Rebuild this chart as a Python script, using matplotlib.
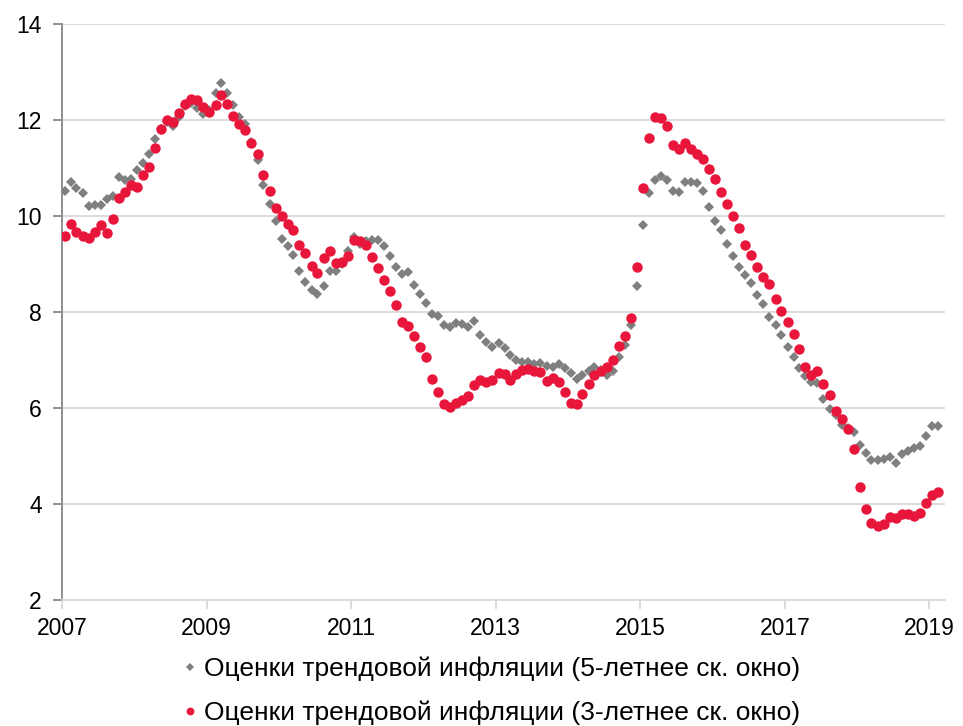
import numpy as np
import pandas as pd
import matplotlib
matplotlib.use("Agg")
import matplotlib.pyplot as plt
import matplotlib.dates as mdates
from datetime import datetime

plt.rcParams['font.family'] = ['Liberation Sans', 'DejaVu Sans']

# monthly estimates, Jan 2007 - Feb 2019
trend_5y = [
    10.53, 10.71, 10.58, 10.47, 10.21, 10.22, 10.22, 10.35, 10.42, 10.81, 10.74, 10.78,
    10.96, 11.10, 11.29, 11.60, 11.82, 11.95, 11.88, 12.07, 12.30, 12.35, 12.24, 12.12,
    12.20, 12.56, 12.78, 12.57, 12.31, 12.06, 11.92, 11.55, 11.17, 10.64, 10.25, 9.90,
    9.51, 9.38, 9.19, 8.85, 8.63, 8.46, 8.37, 8.54, 8.86, 8.86, 9.00, 9.26,
    9.56, 9.42, 9.47, 9.49, 9.49, 9.38, 9.17, 8.93, 8.79, 8.84, 8.56, 8.37,
    8.19, 7.96, 7.92, 7.73, 7.69, 7.76, 7.74, 7.69, 7.81, 7.52, 7.37, 7.28,
    7.36, 7.25, 7.11, 6.99, 6.95, 6.96, 6.92, 6.94, 6.88, 6.85, 6.91, 6.84,
    6.72, 6.60, 6.69, 6.76, 6.86, 6.80, 6.69, 6.78, 7.07, 7.32, 7.72, 8.54,
    9.81, 10.47, 10.75, 10.83, 10.75, 10.53, 10.49, 10.71, 10.71, 10.68, 10.51, 10.18,
    9.90, 9.71, 9.42, 9.17, 8.94, 8.77, 8.61, 8.35, 8.17, 7.89, 7.73, 7.53,
    7.26, 7.07, 6.84, 6.67, 6.55, 6.51, 6.18, 5.97, 5.85, 5.65, 5.58, 5.49,
    5.23, 5.06, 4.92, 4.92, 4.93, 4.97, 4.86, 5.04, 5.11, 5.16, 5.21, 5.42,
    5.63, 5.63,
]
trend_3y = [
    9.59, 9.83, 9.67, 9.59, 9.54, 9.67, 9.81, 9.65, 9.93, 10.37, 10.49, 10.65,
    10.60, 10.85, 11.01, 11.41, 11.82, 11.99, 11.96, 12.14, 12.33, 12.44, 12.42, 12.27,
    12.17, 12.32, 12.51, 12.34, 12.09, 11.91, 11.79, 11.53, 11.29, 10.85, 10.51, 10.16,
    10.00, 9.83, 9.71, 9.40, 9.22, 8.96, 8.81, 9.12, 9.28, 9.03, 9.05, 9.17,
    9.50, 9.48, 9.40, 9.15, 8.92, 8.67, 8.44, 8.15, 7.80, 7.71, 7.49, 7.28,
    7.07, 6.60, 6.33, 6.09, 6.02, 6.11, 6.17, 6.25, 6.48, 6.58, 6.54, 6.58,
    6.72, 6.70, 6.58, 6.71, 6.79, 6.81, 6.78, 6.74, 6.57, 6.62, 6.54, 6.34,
    6.10, 6.08, 6.29, 6.50, 6.69, 6.76, 6.85, 7.00, 7.29, 7.50, 7.88, 8.94,
    10.58, 11.62, 12.07, 12.04, 11.88, 11.48, 11.39, 11.53, 11.40, 11.29, 11.19, 10.98,
    10.76, 10.49, 10.24, 9.99, 9.74, 9.40, 9.19, 8.93, 8.72, 8.58, 8.27, 8.02,
    7.80, 7.54, 7.22, 6.85, 6.69, 6.76, 6.50, 6.27, 5.94, 5.77, 5.56, 5.15,
    4.35, 3.89, 3.60, 3.54, 3.58, 3.72, 3.70, 3.79, 3.79, 3.74, 3.82, 4.01,
    4.19, 4.24,
]
dates = pd.date_range('2007-01-01', '2019-02-01', freq='MS') + pd.Timedelta(days=14)

label_5y = 'Оценки трендовой инфляции (5-летнее ск. окно)'
label_3y = 'Оценки трендовой инфляции (3-летнее ск. окно)'
year_ticks = [datetime(y, 1, 1) for y in range(2007, 2020, 2)]

grey = '#7f7f7f'
red = '#e9163c'

fig = plt.figure(figsize=(9.63, 7.26), dpi=100)
ax = fig.add_axes([0.0644, 0.1736, 0.9166, 0.7934])

ax.plot(dates, trend_5y, 'D', color=grey, ms=5.5, mew=0, label=label_5y, zorder=3)
ax.plot(dates, trend_3y, 'o', color=red, ms=7.5, mew=0, label=label_3y, zorder=4)

ax.set_ylim(2, 14)
ax.set_yticks(range(2, 15, 2))
ax.set_xlim(datetime(2007, 1, 1), datetime(2019, 3, 20))
ax.set_xticks(year_ticks)
ax.xaxis.set_major_formatter(mdates.DateFormatter('%Y'))

ax.grid(axis='y', color='#d9d9d9', lw=1.3)
ax.set_axisbelow(True)
for s in ['top', 'right']:
    ax.spines[s].set_visible(False)
ax.spines['left'].set_color('#888888')
ax.spines['left'].set_linewidth(1.3)
ax.spines['bottom'].set_color('#d9d9d9')
ax.spines['bottom'].set_linewidth(1.3)
ax.tick_params(axis='y', length=6.5, width=1.3, color='#888888', labelsize=16.5, pad=8)
ax.tick_params(axis='x', length=6.5, width=1.3, color='#d9d9d9', labelsize=16.5, pad=6)

fig.legend(loc='upper center', bbox_to_anchor=(0.508, 0.114), frameon=False,
           fontsize=19, markerscale=0.75, handletextpad=0.1, handlelength=0.9,
           labelspacing=0.75, borderpad=0)

fig.savefig('out.png', dpi=100)
